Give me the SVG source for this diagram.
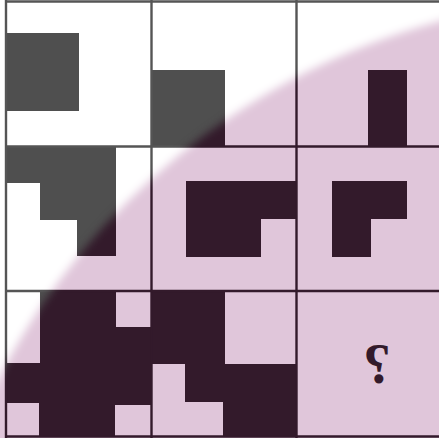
<svg xmlns="http://www.w3.org/2000/svg" xmlns:xlink="http://www.w3.org/1999/xlink" width="439" height="438" viewBox="0 0 439 438">
  <style>
    .plain { fill: #4f4f4f; }
    .plain .lines { stroke: #555555; }
    .tint { fill: #331a2b; }
    .tint .lines { stroke: #331a2b; }
    .q { font-family: "Liberation Serif", "Times New Roman", serif; font-weight: bold; font-size: 56px; fill: #331a2b; text-anchor: middle; }
  </style>
  <defs>
    <filter id="soft" x="-10%" y="-10%" width="120%" height="120%">
      <feGaussianBlur stdDeviation="4.5"/>
    </filter>
    <mask id="disc" maskUnits="userSpaceOnUse" x="0" y="0" width="439" height="438">
      <circle cx="622" cy="697" r="700" fill="#ffffff" filter="url(#soft)"/>
    </mask>
    <g id="shapes">
      <rect x="6" y="33" width="73" height="78"/>
      <rect x="151" y="70" width="74" height="77"/>
      <rect x="368" y="70" width="39" height="77"/>
      <path d="M6,146 H116 V256 H77 V220 H40 V183 H6 Z"/>
      <path d="M186,181 H297 V219 H261 V257 H186 Z"/>
      <path d="M332,181 H407 V219 H371 V257 H332 Z"/>
      <path d="M40,291 H116 V327 H151 V405 H115 V436 H39 V403 H6 V363 H40 Z"/>
      <path d="M151,291 H225 V364 H297 V436 H223 V402 H185 V364 H151 Z"/>
    </g>
    <g id="grid" fill="none" stroke-width="2.4">
      <line x1="6" y1="0" x2="6" y2="438"/>
      <line x1="151.5" y1="0" x2="151.5" y2="438"/>
      <line x1="296.5" y1="0" x2="296.5" y2="438"/>
      <line x1="6" y1="1.5" x2="439" y2="1.5"/>
      <line x1="6" y1="146.5" x2="439" y2="146.5"/>
      <line x1="6" y1="291" x2="439" y2="291"/>
      <line x1="6" y1="436.5" x2="439" y2="436.5"/>
    </g>
  </defs>

  <g id="plain-layer" class="plain">
    <rect x="0" y="0" width="439" height="438" fill="#ffffff"/>
    <use xlink:href="#shapes"/>
    <use class="lines" xlink:href="#grid"/>
  </g>

  <g id="tinted-layer" class="tint" mask="url(#disc)">
    <rect x="0" y="0" width="439" height="438" fill="#e0c6da"/>
    <use xlink:href="#shapes"/>
    <use class="lines" xlink:href="#grid"/>
  </g>

  <g id="question">
    <text class="q" x="377" y="383" transform="matrix(-1 0 0 1 754 0)">?</text>
  </g>
</svg>
